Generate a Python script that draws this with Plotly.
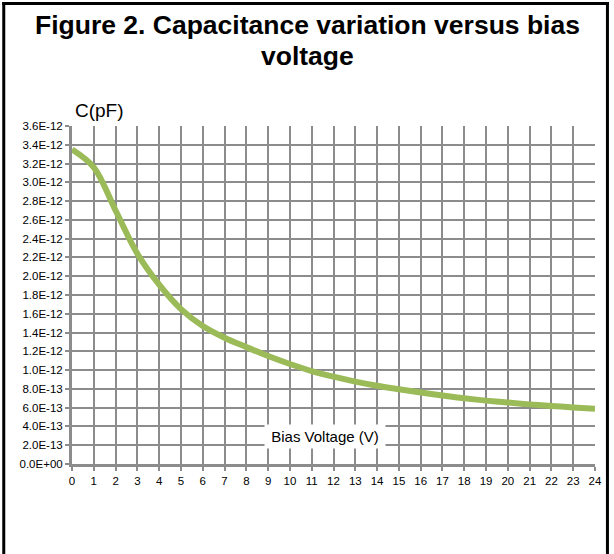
import plotly.graph_objects as go

# Data
bias_v = list(range(0, 25))
cap_pf = [3.35, 3.16, 2.70, 2.24, 1.91, 1.65, 1.47, 1.345, 1.245, 1.15, 1.065, 0.99,
          0.93, 0.878, 0.834, 0.797, 0.762, 0.729, 0.70, 0.675, 0.654, 0.635,
          0.618, 0.603, 0.588]
cap_f = [c * 1e-12 for c in cap_pf]

y_tick_vals = [i * 0.2e-12 for i in range(19)]
y_tick_text = ["0.0E+00", "2.0E-13", "4.0E-13", "6.0E-13", "8.0E-13", "1.0E-12",
               "1.2E-12", "1.4E-12", "1.6E-12", "1.8E-12", "2.0E-12", "2.2E-12",
               "2.4E-12", "2.6E-12", "2.8E-12", "3.0E-12", "3.2E-12", "3.4E-12",
               "3.6E-12"]
x_tick_vals = list(range(0, 25))

title_line1 = "Figure 2. Capacitance variation versus bias"
title_line2 = "voltage"
y_title = "C(pF)"
x_title = "Bias Voltage (V)"

GRID = "#8c8c8c"
FONT = "Liberation Sans, Arial, sans-serif"

fig = go.Figure()
fig.add_trace(go.Scatter(
    x=bias_v, y=cap_f, mode="lines",
    line=dict(color="#9bbb59", width=6, shape="spline", smoothing=1.0),
    hoverinfo="skip", showlegend=False,
))

W, H = 614, 554
L, R, T, B = 72, 17, 126, 90
pw, ph = W - L - R, H - T - B

def px_to_paper_x(px):
    return (px - L) / pw

def px_to_paper_y(py):
    return (H - B - py) / ph

fig.update_layout(
    width=W, height=H,
    margin=dict(l=L, r=R, t=T, b=B),
    paper_bgcolor="white", plot_bgcolor="white",
    font=dict(family=FONT, color="#000000"),
    showlegend=False,
    xaxis=dict(
        range=[0, 24], tickvals=x_tick_vals,
        showgrid=True, gridcolor=GRID, gridwidth=2,
        showline=True, linecolor=GRID, linewidth=3,
        ticks="outside", ticklen=4, tickwidth=2, tickcolor=GRID,
        tickfont=dict(size=11.5, color="#000000"),
        zeroline=False, fixedrange=True,
    ),
    yaxis=dict(
        range=[0, 3.6e-12], tickvals=y_tick_vals, ticktext=y_tick_text,
        showgrid=True, gridcolor=GRID, gridwidth=2,
        showline=True, linecolor=GRID, linewidth=3,
        ticks="outside", ticklen=4, tickwidth=2, tickcolor=GRID,
        tickfont=dict(size=11.5, color="#000000"),
        zeroline=False, fixedrange=True,
    ),
)

annotations = [
    dict(text="<b>" + title_line1 + "</b>", xref="paper", yref="paper",
         x=px_to_paper_x(308), y=px_to_paper_y(25), xanchor="center", yanchor="middle",
         showarrow=False, font=dict(size=26.5, family=FONT, color="#000000")),
    dict(text="<b>" + title_line2 + "</b>", xref="paper", yref="paper",
         x=px_to_paper_x(308), y=px_to_paper_y(56), xanchor="center", yanchor="middle",
         showarrow=False, font=dict(size=26.5, family=FONT, color="#000000")),
    dict(text=y_title, xref="paper", yref="paper",
         x=px_to_paper_x(73), y=px_to_paper_y(110), xanchor="left", yanchor="middle",
         showarrow=False, font=dict(size=19, family=FONT, color="#000000")),
    dict(text=x_title, xref="x", yref="y", x=11.6, y=0.29e-12,
         xanchor="center", yanchor="middle", showarrow=False,
         bgcolor="white", borderpad=3, width=114,
         font=dict(size=15, family=FONT, color="#000000")),
]
fig.update_layout(annotations=annotations)

# outer frame (left, top, right)
frame = dict(type="line", xref="paper", yref="paper", line=dict(color="black", width=3), layer="above")
fig.update_layout(shapes=[
    dict(frame, x0=px_to_paper_x(3.5), x1=px_to_paper_x(3.5), y0=px_to_paper_y(560), y1=px_to_paper_y(2)),
    dict(frame, x0=px_to_paper_x(2), x1=px_to_paper_x(611), y0=px_to_paper_y(3.5), y1=px_to_paper_y(3.5)),
    dict(frame, x0=px_to_paper_x(609.5), x1=px_to_paper_x(609.5), y0=px_to_paper_y(560), y1=px_to_paper_y(2)),
])

fig.write_html("out.html", config={"displayModeBar": False},
               post_script="document.body.style.margin='0';document.body.style.overflow='hidden';")
